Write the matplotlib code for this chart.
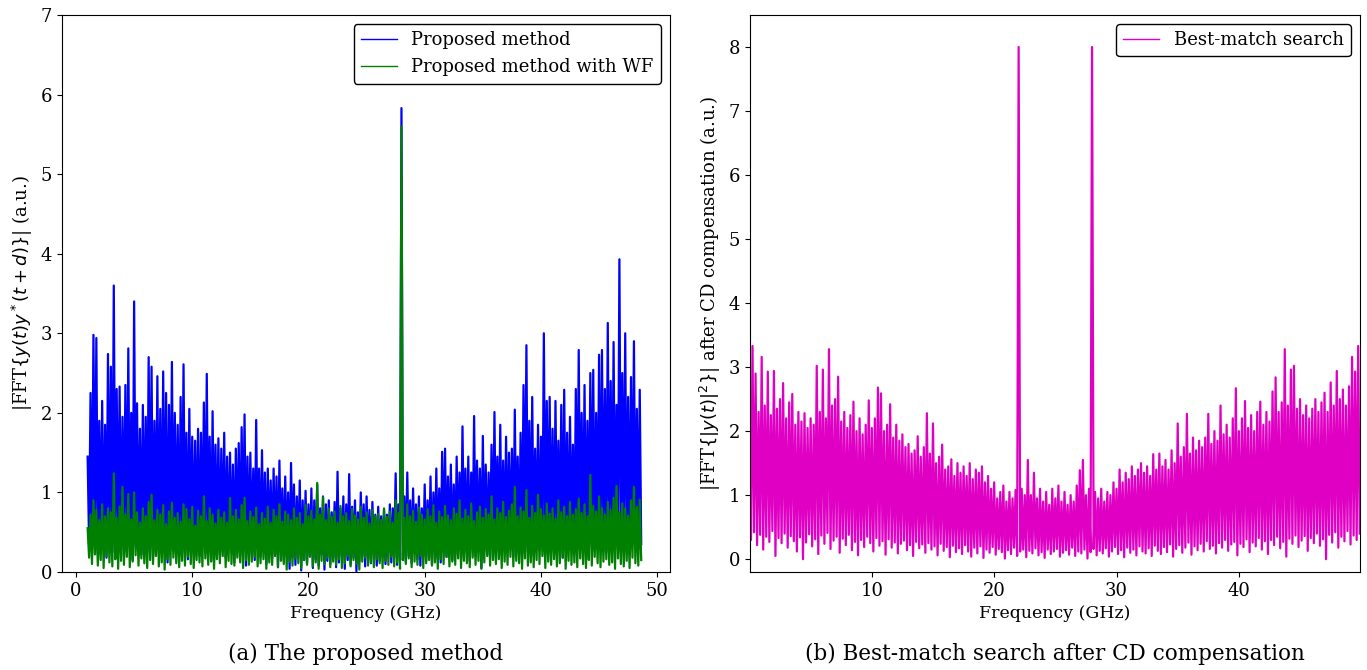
import numpy as np
import matplotlib
matplotlib.use('Agg')
from matplotlib import pyplot as plt

plt.rcParams['font.family'] = ['DejaVu Serif']
plt.rcParams['mathtext.fontset'] = 'dejavusans'

# left panel: FFT bins (GHz), one peak and one trough per bin
left_start = 1.0
left_step = 0.25

blue_peaks = [
    1.45, 2.25, 2.98, 2.94, 1.90, 2.15, 1.85, 2.74, 2.58, 3.60,
    2.30, 2.33, 1.95, 2.35, 2.81, 2.00, 3.40, 2.12, 1.80, 2.10,
    1.95, 2.70, 2.58, 1.90, 2.46, 2.05, 2.52, 2.25, 2.10, 2.64,
    2.00, 1.85, 2.20, 2.61, 1.75, 2.05, 1.70, 1.65, 1.80, 1.75,
    2.13, 2.49, 1.70, 2.02, 1.60, 1.68, 1.55, 1.75, 1.45, 1.50,
    1.35, 1.55, 1.62, 1.82, 1.98, 1.45, 1.50, 1.30, 1.91, 1.30,
    1.53, 1.25, 1.30, 1.15, 1.30, 1.20, 1.40, 1.05, 1.20, 1.00,
    1.37, 1.10, 0.95, 1.15, 0.90, 1.02, 0.85, 1.05, 0.90, 1.10,
    0.80, 0.95, 0.85, 0.90, 0.75, 0.88, 1.26, 0.80, 0.95, 0.85,
    1.23, 0.82, 0.90, 0.75, 1.00, 0.85, 0.95, 0.78, 0.88, 0.72,
    0.82, 0.70, 0.78, 0.72, 0.85, 0.80, 1.24, 0.85, 5.83, 0.95,
    1.25, 0.90, 1.05, 0.85, 0.95, 0.80, 1.10, 0.90, 1.20, 1.00,
    1.30, 1.05, 1.51, 1.55, 1.20, 1.35, 1.10, 1.45, 1.25, 1.83,
    1.30, 1.45, 1.25, 1.96, 1.40, 1.30, 1.71, 1.35, 1.25, 1.60,
    2.01, 1.45, 1.85, 1.40, 1.70, 1.50, 1.55, 2.04, 1.45, 1.75,
    2.35, 2.85, 1.90, 2.20, 1.55, 1.85, 1.70, 3.00, 2.15, 2.20,
    1.80, 2.15, 1.65, 2.10, 2.29, 1.75, 1.95, 1.60, 2.30, 2.79,
    2.00, 2.35, 1.90, 2.50, 2.54, 2.00, 2.73, 2.79, 2.30, 3.13,
    2.40, 2.89, 2.10, 3.93, 2.50, 3.00, 2.20, 2.45, 2.90, 2.05,
    2.29,
]
blue_troughs = [
    0.35, 0.28, 0.40, 0.22, 0.45, 0.30, 0.18, 0.38, 0.25, 0.42,
    0.30, 0.20, 0.48, 0.26, 0.35, 0.15, 0.40, 0.32, 0.22, 0.45,
    0.28, 0.36, 0.19, 0.42, 0.30, 0.25, 0.38, 0.12, 0.33, 0.27,
    0.44, 0.21, 0.35, 0.29, 0.16, 0.40, 0.26, 0.34, 0.20, 0.38,
    0.24, 0.31, 0.14, 0.37, 0.28, 0.22, 0.35, 0.18, 0.30, 0.25,
    0.12, 0.33, 0.20, 0.28, 0.08, 0.30, 0.24, 0.15, 0.32, 0.19,
    0.26, 0.10, 0.28, 0.17, 0.22, 0.06, 0.25, 0.14, 0.20, 0.04,
    0.18, 0.09, 0.24, 0.02, 0.15, 0.11, 0.20, 0.05, 0.16, 0.08,
    0.22, 0.03, 0.14, 0.10, 0.18, 0.06, 0.12, 0.20, 0.04, 0.15,
    0.09, 0.18, 0.01, 0.13, 0.20, 0.07, 0.16, 0.11, 0.22, 0.08,
    0.14, 0.19, 0.10, 0.24, 0.12, 0.18, 0.09, 0.21, 0.15, 0.13,
    0.20, 0.11, 0.24, 0.16, 0.08, 0.22, 0.14, 0.18, 0.10, 0.25,
    0.17, 0.12, 0.26, 0.19, 0.30, 0.15, 0.22, 0.28, 0.18, 0.32,
    0.24, 0.14, 0.30, 0.20, 0.35, 0.05, 0.27, 0.22, 0.33, 0.18,
    0.29, 0.36, 0.21, 0.32, 0.25, 0.40, 0.19, 0.34, 0.28, 0.23,
    0.38, 0.26, 0.31, 0.20, 0.42, 0.27, 0.35, 0.22, 0.39, 0.30,
    0.25, 0.41, 0.33, 0.18, 0.37, 0.28, 0.44, 0.24, 0.36, 0.30,
    0.40, 0.22, 0.35, 0.46, 0.27, 0.38, 0.31, 0.43, 0.25, 0.36,
    0.48, 0.29, 0.40, 0.33, 0.45, 0.26, 0.39, 0.50, 0.30, 0.42,
    0.35,
]
green_peaks = [
    0.55, 0.72, 0.90, 0.78, 0.65, 0.85, 0.70, 0.80, 0.75, 1.24,
    0.68, 0.82, 1.07, 0.72, 0.98, 0.66, 1.00, 0.75, 0.62, 0.80,
    0.70, 0.88, 0.97, 0.65, 0.78, 0.72, 0.84, 0.60, 0.76, 0.87,
    0.68, 0.74, 0.63, 0.85, 0.79, 0.66, 0.82, 0.58, 0.77, 0.70,
    0.95, 0.64, 0.80, 0.72, 0.61, 0.78, 0.68, 0.75, 0.62, 0.93,
    0.70, 0.78, 0.66, 0.84, 0.93, 0.64, 0.76, 0.69, 0.81, 0.60,
    0.74, 0.67, 0.82, 0.62, 0.78, 0.70, 0.85, 0.63, 0.76, 0.72,
    0.65, 0.80, 0.68, 0.74, 0.60, 0.84, 0.70, 0.77, 0.66, 1.12,
    0.72, 0.94, 0.65, 0.80, 0.69, 0.76, 0.62, 0.83, 0.70, 0.74,
    0.64, 0.79, 0.71, 0.66, 0.82, 0.68, 0.75, 0.61, 0.78, 0.70,
    0.73, 0.65, 0.80, 0.69, 0.76, 0.62, 0.90, 0.74, 5.60, 0.68,
    0.85, 0.70, 0.77, 0.63, 0.81, 0.72, 0.66, 0.79, 0.70, 0.84,
    0.62, 0.76, 0.69, 0.83, 0.71, 0.65, 0.80, 0.73, 0.90, 0.67,
    0.78, 0.70, 0.86, 0.64, 0.75, 0.82, 0.68, 0.79, 0.72, 0.95,
    0.66, 0.80, 0.74, 0.88, 0.69, 0.77, 0.85, 1.07, 0.70, 0.81,
    0.76, 1.03, 0.68, 0.83, 0.74, 0.97, 0.79, 0.71, 0.86, 0.73,
    0.80, 0.67, 0.90, 0.75, 0.82, 0.70, 0.88, 0.72, 0.79, 0.92,
    0.74, 0.85, 0.70, 1.22, 0.83, 0.76, 0.95, 0.80, 0.72, 0.88,
    0.78, 0.93, 1.08, 0.75, 0.86, 0.80, 0.71, 0.90, 1.07, 0.82,
    0.91,
]
green_troughs = [
    0.18, 0.10, 0.22, 0.08, 0.15, 0.05, 0.20, 0.12, 0.07, 0.16,
    0.04, 0.14, 0.09, 0.19, 0.06, 0.13, 0.21, 0.08, 0.17, 0.11,
    0.05, 0.15, 0.10, 0.20, 0.07, 0.12, 0.03, 0.16, 0.09, 0.18,
    0.11, 0.06, 0.14, 0.08, 0.19, 0.10, 0.05, 0.15, 0.12, 0.07,
    0.17, 0.09, 0.13, 0.04, 0.16, 0.11, 0.20, 0.06, 0.14, 0.10,
    0.08, 0.18, 0.12, 0.05, 0.15, 0.09, 0.13, 0.19, 0.07, 0.11,
    0.16, 0.04, 0.12, 0.09, 0.20, 0.06, 0.14, 0.10, 0.03, 0.13,
    0.08, 0.17, 0.11, 0.05, 0.15, 0.09, 0.19, 0.07, 0.12, 0.04,
    0.14, 0.10, 0.18, 0.06, 0.13, 0.09, 0.16, 0.05, 0.11, 0.20,
    0.07, 0.15, 0.10, 0.03, 0.13, 0.18, 0.08, 0.12, 0.06, 0.16,
    0.11, 0.05, 0.14, 0.09, 0.19, 0.07, 0.12, 0.04, 0.15, 0.10,
    0.17, 0.06, 0.13, 0.09, 0.20, 0.05, 0.11, 0.15, 0.08, 0.12,
    0.04, 0.16, 0.10, 0.19, 0.07, 0.13, 0.09, 0.17, 0.05, 0.14,
    0.11, 0.06, 0.18, 0.09, 0.14, 0.04, 0.12, 0.20, 0.08, 0.15,
    0.10, 0.16, 0.05, 0.13, 0.09, 0.19, 0.07, 0.14, 0.11, 0.04,
    0.17, 0.08, 0.12, 0.06, 0.15, 0.10, 0.20, 0.05, 0.13, 0.09,
    0.16, 0.07, 0.11, 0.18, 0.04, 0.14, 0.09, 0.12, 0.06, 0.17,
    0.10, 0.05, 0.15, 0.08, 0.19, 0.11, 0.06, 0.13, 0.16, 0.09,
    0.12, 0.04, 0.17, 0.10, 0.07, 0.14, 0.05, 0.18, 0.11, 0.08,
    0.15,
]

# right panel
right_start = 0.0
right_step = 0.25

magenta_peaks = [
    2.50, 3.33, 2.90, 2.30, 3.16, 2.40, 2.93, 2.25, 2.94, 2.35,
    2.50, 2.75, 2.20, 2.45, 2.58, 2.10, 2.30, 2.15, 2.28, 2.05,
    2.20, 2.10, 3.02, 2.30, 2.96, 2.20, 3.28, 2.40, 2.50, 2.85,
    2.15, 2.30, 2.05, 2.25, 2.46, 2.00, 2.20, 1.95, 2.10, 2.48,
    2.05, 2.20, 2.68, 2.59, 2.00, 2.10, 2.42, 1.90, 2.10, 1.85,
    1.95, 1.75, 1.80, 1.65, 1.70, 1.92, 1.60, 1.75, 2.28, 1.65,
    2.12, 1.50, 1.60, 1.79, 1.40, 1.45, 1.56, 1.30, 1.50, 1.35,
    1.45, 1.30, 1.50, 1.25, 1.40, 1.35, 1.45, 1.20, 1.30, 1.10,
    1.20, 0.95, 1.05, 1.15, 0.90, 1.05, 0.95, 1.08, 8.00, 1.10,
    1.00, 1.55, 1.00, 1.35, 0.95, 1.10, 0.90, 1.05, 0.85, 1.10,
    0.95, 1.15, 0.90, 1.05, 0.85, 1.00, 0.90, 1.15, 1.39, 1.55,
    1.00, 1.10, 8.00, 1.05, 0.95, 1.10, 0.90, 1.05, 1.00, 1.20,
    1.10, 1.40, 1.20, 1.35, 1.25, 1.45, 1.30, 1.40, 1.50, 1.35,
    1.45, 1.30, 1.64, 1.40, 1.65, 1.45, 1.55, 1.40, 1.70, 1.50,
    2.12, 1.60, 1.75, 2.27, 1.65, 1.90, 1.70, 1.85, 1.75, 1.90,
    2.27, 1.80, 2.00, 1.85, 2.40, 1.95, 2.10, 1.90, 2.20, 2.67,
    2.00, 2.20, 2.47, 2.05, 2.25, 2.00, 2.30, 2.46, 2.10, 2.30,
    2.15, 2.62, 2.84, 2.30, 2.45, 3.28, 2.40, 2.96, 3.02, 2.35,
    2.50, 2.25, 2.40, 2.20, 2.35, 2.50, 2.30, 2.45, 2.60, 2.30,
    2.76, 2.40, 2.94, 2.50, 2.65, 2.40, 2.70, 3.16, 2.93, 3.33,
]
magenta_troughs = [
    0.30, 0.42, 0.22, 0.38, 0.15, 0.35, 0.27, 0.44, 0.05, 0.33,
    0.25, 0.40, 0.18, 0.36, 0.28, 0.12, 0.34, 0.00, 0.26, 0.39,
    0.20, 0.31, 0.08, 0.37, 0.24, 0.41, 0.16, 0.29, 0.35, 0.10,
    0.32, 0.22, 0.38, 0.14, 0.27, 0.06, 0.30, 0.19, 0.35, 0.25,
    0.12, 0.33, 0.21, 0.28, 0.07, 0.31, 0.18, 0.26, 0.09, 0.24,
    0.29, 0.14, 0.22, 0.05, 0.27, 0.17, 0.23, 0.10, 0.25, 0.15,
    0.20, 0.06, 0.24, 0.13, 0.19, 0.03, 0.21, 0.11, 0.17, 0.08,
    0.22, 0.12, 0.04, 0.18, 0.09, 0.20, 0.02, 0.15, 0.10, 0.19,
    0.07, 0.16, 0.11, 0.01, 0.14, 0.08, 0.18, 0.05, 0.12, 0.15,
    0.03, 0.13, 0.09, 0.17, 0.06, 0.11, 0.02, 0.15, 0.08, 0.12,
    0.16, 0.04, 0.10, 0.14, 0.07, 0.18, 0.05, 0.12, 0.09, 0.15,
    0.01, 0.11, 0.16, 0.06, 0.13, 0.09, 0.17, 0.04, 0.12, 0.19,
    0.08, 0.14, 0.03, 0.18, 0.10, 0.15, 0.06, 0.20, 0.12, 0.09,
    0.17, 0.05, 0.21, 0.13, 0.08, 0.19, 0.11, 0.23, 0.04, 0.16,
    0.22, 0.10, 0.18, 0.26, 0.07, 0.20, 0.14, 0.24, 0.12, 0.28,
    0.16, 0.21, 0.09, 0.25, 0.18, 0.30, 0.13, 0.23, 0.27, 0.06,
    0.24, 0.19, 0.31, 0.11, 0.26, 0.20, 0.33, 0.15, 0.28, 0.08,
    0.30, 0.22, 0.35, 0.17, 0.27, 0.04, 0.32, 0.24, 0.37, 0.19,
    0.29, 0.36, 0.13, 0.33, 0.25, 0.40, 0.21, 0.31, 0.00, 0.38,
    0.26, 0.42, 0.18, 0.35, 0.28, 0.44, 0.23, 0.37, 0.30, 0.40,
]


def spectrum(start, step, peaks, troughs):
    # interleave peak / trough of every bin
    y = np.column_stack([peaks, troughs]).ravel()
    x = start + step / 2 * np.arange(len(y))
    return x, y


fig = plt.figure(figsize=(13.67, 6.70), dpi=100)
ax1 = fig.add_axes([0.0454, 0.1463, 0.4447, 0.8313])
ax2 = fig.add_axes([0.5486, 0.1463, 0.4463, 0.8313])

xb, yb = spectrum(left_start, left_step, blue_peaks, blue_troughs)
xg, yg = spectrum(left_start, left_step, green_peaks, green_troughs)
ax1.plot(xb, yb, color='blue', lw=1.6, label='Proposed method')
ax1.plot(xg, yg, color='green', lw=1.6, label='Proposed method with WF')
ax1.set_xlim(-1.2, 51.1)
ax1.set_ylim(0, 7)
ax1.set_xlabel('Frequency (GHz)', fontsize=12.5)
ax1.set_ylabel('|FFT$\\{y(t)y^*(t+d)\\}$| (a.u.)', fontsize=13)
ax1.tick_params(labelsize=13)
leg = ax1.legend(loc='upper right', fontsize=13, edgecolor='black', framealpha=1)
for line in leg.get_lines():
    line.set_linewidth(1.0)

xm, ym = spectrum(right_start, right_step, magenta_peaks, magenta_troughs)
ax2.plot(xm, ym, color='#e000c4', lw=1.6, label='Best-match search')
ax2.set_xlim(0.04, 49.9)
ax2.set_ylim(-0.2, 8.5)
ax2.set_xticks([10, 20, 30, 40])
ax2.set_xlabel('Frequency (GHz)', fontsize=12.5)
ax2.set_ylabel('|FFT$\\{|y(t)|^2\\}$| after CD compensation (a.u.)', fontsize=13)
ax2.tick_params(labelsize=13)
leg = ax2.legend(loc='upper right', fontsize=13, edgecolor='black', framealpha=1)
for line in leg.get_lines():
    line.set_linewidth(1.0)

fig.text(0.2677, 0.024, '(a) The proposed method', ha='center', va='center', fontsize=15.5)
fig.text(0.7718, 0.024, '(b) Best-match search after CD compensation', ha='center', va='center', fontsize=15.5)

fig.savefig('out.png', dpi=100)
